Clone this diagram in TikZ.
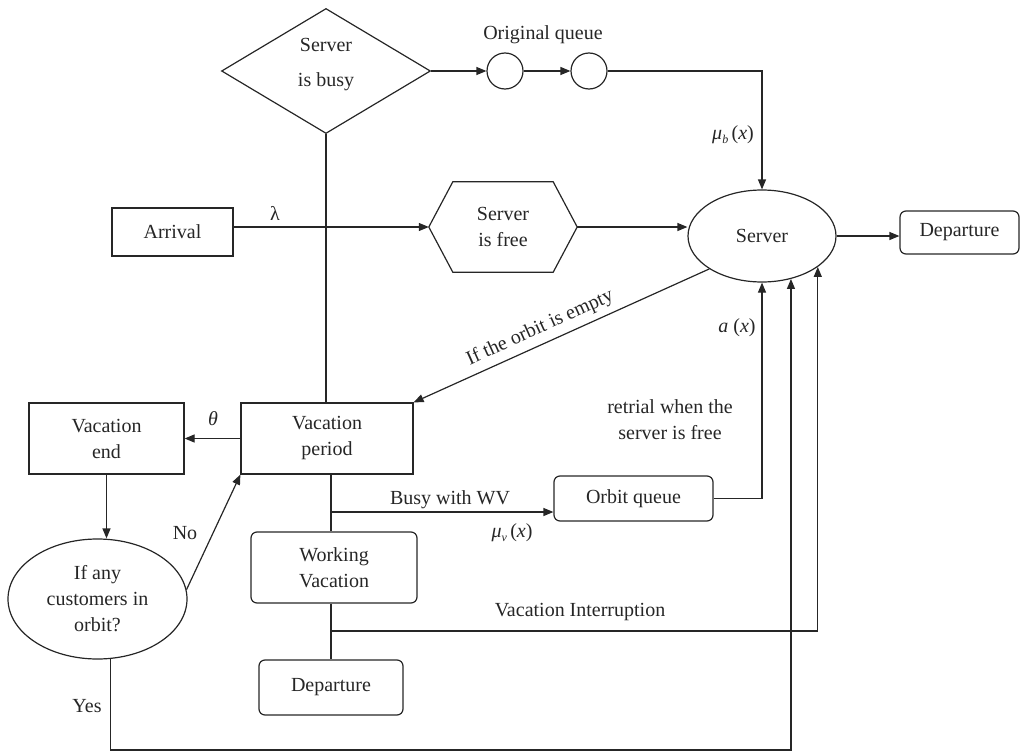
\documentclass[tikz,border=0pt]{standalone}
\usepackage{fontspec}
\setmainfont{Liberation Serif}
\usetikzlibrary{shapes.geometric,arrows.meta}
\newcommand{\mysub}[1]{\raisebox{-4pt}{\fontsize{12}{12}\selectfont\itshape #1}}
\begin{document}
\begin{tikzpicture}[x=1pt,y=-1pt,
  base/.style={font=\fontsize{20}{26}\selectfont, align=center, inner sep=0pt, text=black!85},
  box/.style={base, draw=black!85, line width=1.2pt},
  rbox/.style={box, rounded corners=6pt},
  lbl/.style={font=\fontsize{20}{26}\selectfont, inner sep=0pt, text=black!85, align=center},
  arr/.style={draw=black!85, line width=1.2pt, -{Triangle[length=10pt,width=8pt]}},
  ln/.style={draw=black!85, line width=1.2pt}]
\useasboundingbox (0,0) rectangle (1020,752);

% nodes
\node[box, diamond, minimum width=209pt, minimum height=125pt,
  label={[lbl, yshift=6.5pt]center:Server\\[9pt]is busy}] (busy) at (326,71) {};
\node[box, circle, minimum size=36pt] (q1) at (505,71) {};
\node[box, circle, minimum size=36pt] (q2) at (589,71) {};
\node[lbl] (orig) at (543,35) {Original queue};

\node[base, minimum width=148pt, minimum height=90pt] (free) at (503,227) {Server\\is free};
\draw[ln] (free.west) -- ([xshift=24pt]free.north west) -- ([xshift=-24pt]free.north east)
  -- (free.east) -- ([xshift=-24pt]free.south east) -- ([xshift=24pt]free.south west) -- cycle;

\node[box, ellipse, minimum width=148pt, minimum height=92pt] (server) at (762,236) {Server};
\node[rbox, minimum width=119pt, minimum height=43pt] (dep1) at (959.5,232.5) {Departure};
\node[box, minimum width=121pt, minimum height=48pt] (arrival) at (172.5,232) {Arrival};

\node[box, minimum width=172pt, minimum height=71pt] (vp) at (327,438.5) {Vacation\\period};
\node[box, minimum width=155pt, minimum height=71pt] (ve) at (106.5,438.5) {Vacation\\end};
\node[box, ellipse, minimum width=179pt, minimum height=120pt] (anyc) at (97.5,599) {If any\\customers in\\orbit?};
\node[rbox, minimum width=159pt, minimum height=45pt] (orbit) at (633.5,498.5) {Orbit queue};
\node[rbox, minimum width=166pt, minimum height=71pt] (wv) at (334,567.5) {Working\\Vacation};
\node[rbox, minimum width=144pt, minimum height=55pt] (dep2) at (331,687.5) {Departure};

\coordinate (j1) at (331,512);
\coordinate (j2) at (331,631);
\coordinate (bot) at (0,750);

% connectors
\draw[ln] (busy.south) -- (busy.south |- vp.north);
\draw[arr] (busy.east) -- (q1.west);
\draw[arr] (q1.east) -- (q2.west);
\draw[arr] (q2.east) -| (server.north);
\node[lbl] (mub) at (733,135) {\textit{μ}\mysub{b}\,(\textit{x})};

\draw[arr] (arrival.east |- free.west) -- (free.west);
\node[lbl] (lam) at (275,213) {λ};
\draw[arr] (free.east) -- (free.east -| server.west);
\draw[arr] (server.east) -- (server.east -| dep1.west);

\draw[arr] (server.south west) -- node[lbl, above=6pt, sloped, pos=0.55] {If the orbit is empty} (vp.north east);

\draw[arr] (vp.west) -- (ve.east);
\node[lbl] (th) at (213,419) {\textit{θ}};
\draw[arr] (ve.south) -- (ve.south |- anyc.north);
\draw[arr] (anyc.6) -- (vp.south west);
\node[lbl] (no) at (185,533) {No};

\draw[ln] (j1 |- vp.south) -- (j1 |- wv.north);
\draw[arr] (j1) -- (j1 -| orbit.west);
\node[lbl] (bwv) at (450,500) {Busy with WV};
\node[lbl] (muv) at (512,533) {\textit{μ}\mysub{v}\,(\textit{x})};
\draw[arr] (orbit.east) -| (server.south);
\node[lbl] (ax) at (737,328) {\textit{a} (\textit{x})};
\node[lbl] (retr) at (670,420) {retrial when the\\server is free};

\draw[ln] (j1 |- wv.south) -- (j1 |- dep2.north);
\draw[arr] (j2) -| (server.-29.2);
\node[lbl] (vi) at (580,612) {Vacation Interruption};

\draw[arr] (anyc.-78) -- (anyc.-78 |- bot) -| (server.-56.7);
\node[lbl] (yes) at (87,706) {Yes};
\end{tikzpicture}
\end{document}
